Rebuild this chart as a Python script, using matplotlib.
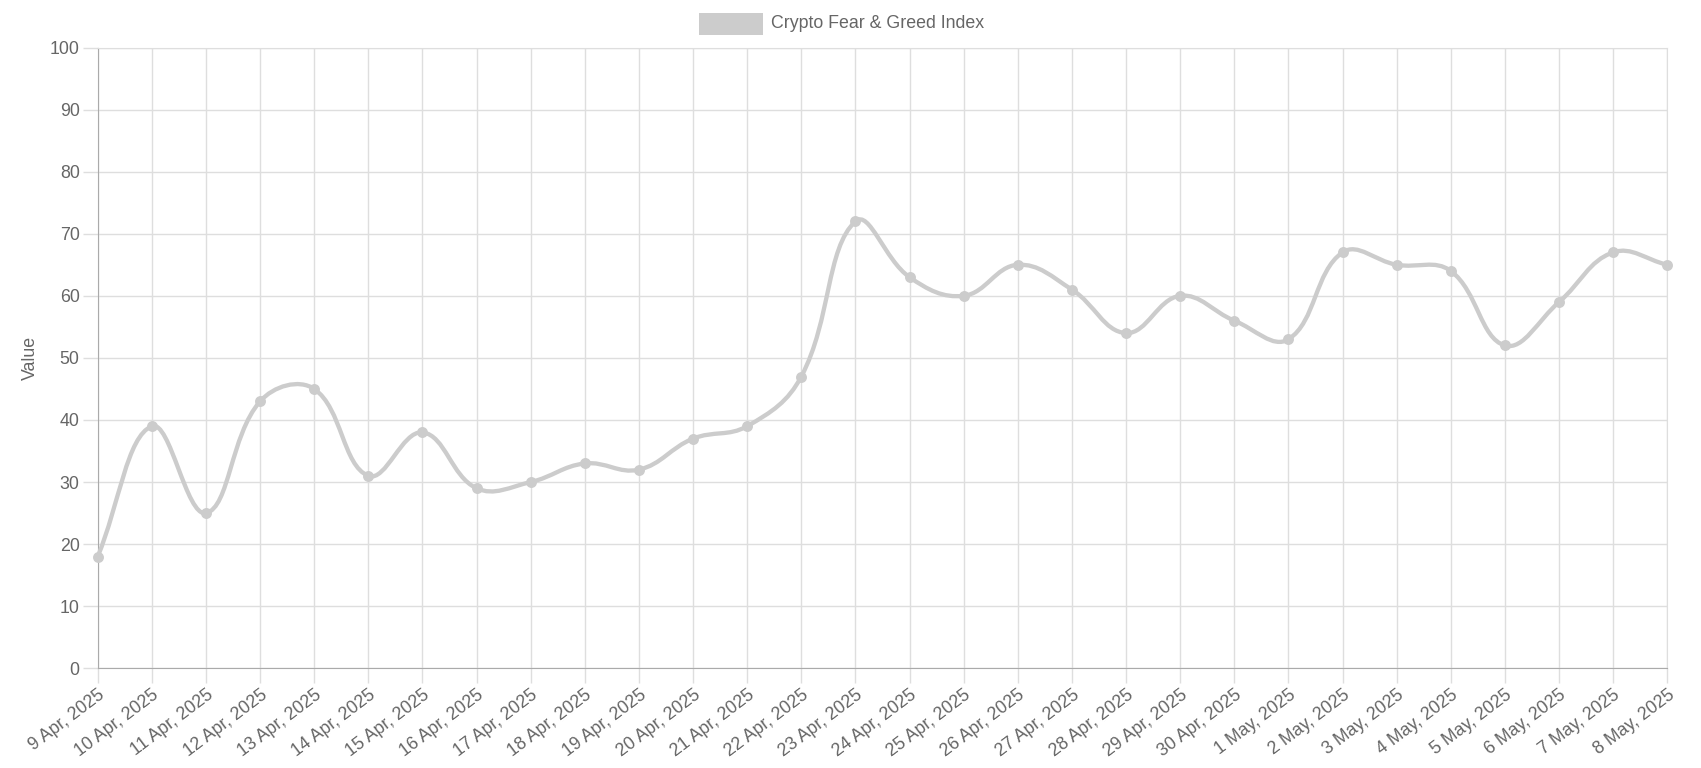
import numpy as np
import matplotlib
matplotlib.use("Agg")
import matplotlib.pyplot as plt
from matplotlib.path import Path
from matplotlib.patches import PathPatch, Rectangle

dates = ["9 Apr, 2025", "10 Apr, 2025", "11 Apr, 2025", "12 Apr, 2025", "13 Apr, 2025",
         "14 Apr, 2025", "15 Apr, 2025", "16 Apr, 2025", "17 Apr, 2025", "18 Apr, 2025",
         "19 Apr, 2025", "20 Apr, 2025", "21 Apr, 2025", "22 Apr, 2025", "23 Apr, 2025",
         "24 Apr, 2025", "25 Apr, 2025", "26 Apr, 2025", "27 Apr, 2025", "28 Apr, 2025",
         "29 Apr, 2025", "30 Apr, 2025", "1 May, 2025", "2 May, 2025", "3 May, 2025",
         "4 May, 2025", "5 May, 2025", "6 May, 2025", "7 May, 2025", "8 May, 2025"]
values = [18, 39, 25, 43, 45, 31, 38, 29, 30, 33, 32, 37, 39, 47, 72,
          63, 60, 65, 61, 54, 60, 56, 53, 67, 65, 64, 52, 59, 67, 65]
yticks = list(range(0, 101, 10))
label = "Crypto Fear & Greed Index"

W, H = 1701, 768
fig = plt.figure(figsize=(W / 100, H / 100), dpi=100)
left, right, top, bottom = 97.7, 1667.3, 47.5, 668.3
ax = fig.add_axes([left / W, 1 - bottom / H, (right - left) / W, (bottom - top) / H])

line_col = "#cccccc"
txt_col = "#666666"
grid_col = "#dedede"
fs = 12.8

n = len(values)
ax.set_xlim(0, n - 1)
ax.set_ylim(0, 100)

# chart.js style bezier (tension 0.4) computed in pixel space
sx = (right - left) / (n - 1)
sy = (bottom - top) / 100.0
px = np.arange(n) * sx
py = np.array(values, dtype=float) * sy
t = 0.4
cp_prev = []
cp_next = []
for i in range(n):
    p0 = (px[max(i - 1, 0)], py[max(i - 1, 0)])
    p1 = (px[i], py[i])
    p2 = (px[min(i + 1, n - 1)], py[min(i + 1, n - 1)])
    d01 = np.hypot(p1[0] - p0[0], p1[1] - p0[1])
    d12 = np.hypot(p2[0] - p1[0], p2[1] - p1[1])
    tot = d01 + d12
    s01 = d01 / tot if tot else 0
    s12 = d12 / tot if tot else 0
    fa, fb = t * s01, t * s12
    prev = (p1[0] - fa * (p2[0] - p0[0]), p1[1] - fa * (p2[1] - p0[1]))
    nxt = (p1[0] + fb * (p2[0] - p0[0]), p1[1] + fb * (p2[1] - p0[1]))
    cp_prev.append(prev)
    cp_next.append(nxt)

def to_data(p):
    x = min(max(p[0], 0), px[-1])
    y = min(max(p[1], 0), 100 * sy)
    return (x / sx, y / sy)

verts = [(0, values[0])]
codes = [Path.MOVETO]
for i in range(n - 1):
    verts += [to_data(cp_next[i]), to_data(cp_prev[i + 1]), (i + 1, values[i + 1])]
    codes += [Path.CURVE4] * 3
ax.add_patch(PathPatch(Path(verts, codes), facecolor="none", edgecolor=line_col,
                       lw=3.1, capstyle="round", joinstyle="round", zorder=3, clip_on=False))
ax.scatter(range(n), values, s=62, color=line_col, zorder=4, clip_on=False, linewidths=0)

ax.set_xticks(range(n))
ax.set_xticklabels(dates, rotation=37, ha="right", rotation_mode="anchor",
                   fontsize=fs, color=txt_col, family="Liberation Sans")
ax.set_yticks(yticks)
ax.set_yticklabels([str(v) for v in yticks], fontsize=fs, color=txt_col, family="Liberation Sans")
ax.tick_params(axis="both", length=11, color=grid_col, width=1, pad=2)
ax.grid(True, color=grid_col, lw=1)
ax.set_axisbelow(True)
for s in ["top", "right"]:
    ax.spines[s].set_color(grid_col)
for s in ["left", "bottom"]:
    ax.spines[s].set_color("#aaaaaa")
ax.set_ylabel("Value", fontsize=fs, color=txt_col, family="Liberation Sans", labelpad=8)

# legend
fig.patches.append(Rectangle((699 / W, 1 - 34.7 / H), 64 / W, 22 / H,
                             transform=fig.transFigure, facecolor=line_col, edgecolor="none"))
fig.text(770.5 / W, 1 - 23.5 / H, label, fontsize=fs, color=txt_col,
         family="Liberation Sans", va="center", ha="left")

fig.savefig("out.png", dpi=100)
